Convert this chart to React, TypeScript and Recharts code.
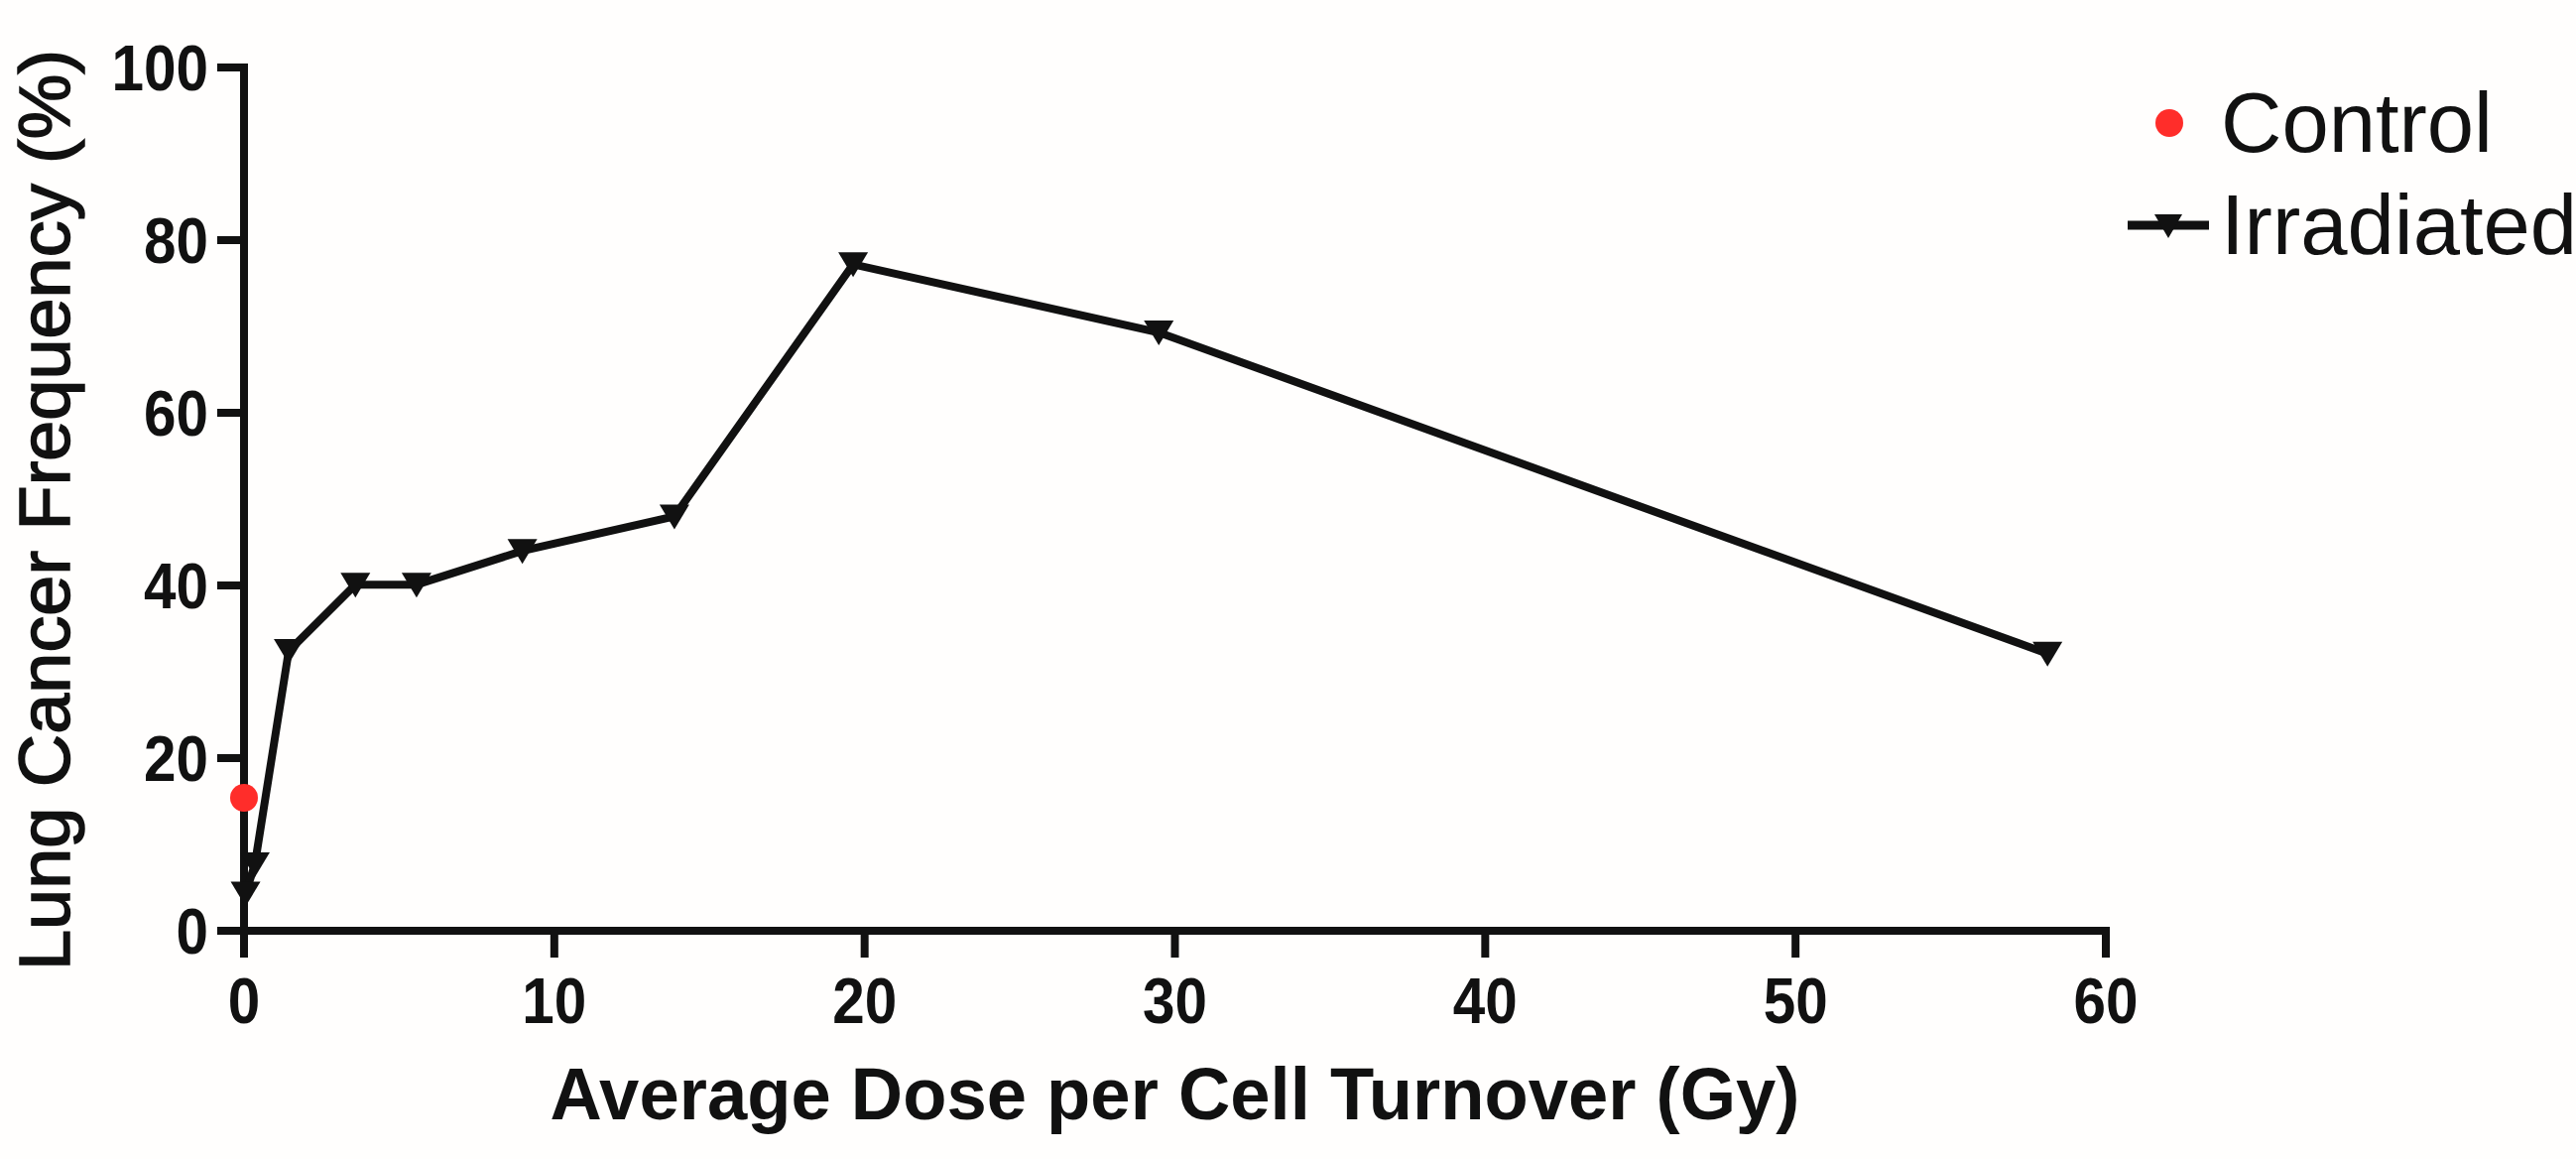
import { ScatterChart, Scatter, XAxis, YAxis, Label } from 'recharts';

// values
const controlDose = [0];
const controlFreq = [15.4];

const irradiatedDose = [0.05, 0.35, 1.44, 3.59, 5.56, 8.97, 13.87, 19.63, 29.48, 58.12];
const irradiatedFreq = [4.3, 7.7, 32.4, 40.1, 40.1, 44.0, 48.0, 77.2, 69.3, 32.1];

const xTicks = [0, 10, 20, 30, 40, 50, 60];
const yTicks = [0, 20, 40, 60, 80, 100];

const controlData = controlDose.map((d, i) => ({ dose: d, freq: controlFreq[i] }));
const irradiatedData = irradiatedDose.map((d, i) => ({ dose: d, freq: irradiatedFreq[i] }));

const INK = '#111111';
const RED = '#ff2d2a';
const FONT = '"Liberation Sans", Arial, Helvetica, sans-serif';

function TriangleDown(props: any) {
  const { cx, cy } = props;
  return <polygon points={`${cx - 15},${cy - 12} ${cx + 15},${cy - 12} ${cx},${cy + 13}`} fill={INK} />;
}

function RedDot(props: any) {
  return <circle cx={props.cx} cy={props.cy} r={14} fill={RED} />;
}

function YTick({ x, y, payload }: any) {
  const s = String(payload.value);
  return (
    <text x={x} y={y} dy="0.355em" textAnchor="end" fontFamily={FONT} fontWeight="bold" fontSize={65} fill={INK}
      textLength={s.length * 32.5} lengthAdjust="spacingAndGlyphs">{s}</text>
  );
}

function XTick({ x, y, payload }: any) {
  const s = String(payload.value);
  return (
    <text x={x} y={y} dy="0.71em" textAnchor="middle" fontFamily={FONT} fontWeight="bold" fontSize={65} fill={INK}
      textLength={s.length * 32.5} lengthAdjust="spacingAndGlyphs">{s}</text>
  );
}

function XTitle({ viewBox }: any) {
  return (
    <text x={viewBox.x + viewBox.width / 2} y={viewBox.y + 190} textAnchor="middle" fontFamily={FONT} fontWeight="bold"
      fontSize={74} fill={INK} textLength={1260} lengthAdjust="spacingAndGlyphs">Average Dose per Cell Turnover (Gy)</text>
  );
}

function YTitle({ viewBox }: any) {
  const cx = 70;
  const cy = viewBox.y + viewBox.height / 2 + 11;
  return (
    <text x={cx} y={cy} transform={`rotate(-90, ${cx}, ${cy})`} textAnchor="middle" fontFamily={FONT}
      fontSize={72} fill={INK} stroke={INK} strokeWidth={1.5} textLength={928} lengthAdjust="spacingAndGlyphs">
      Lung Cancer Frequency (%)
    </text>
  );
}

function LegendBox() {
  const row: any = { position: 'absolute', left: 2125, height: 100, display: 'flex', alignItems: 'center' };
  const label: any = { fontFamily: FONT, fontSize: 85, lineHeight: '100px', color: INK, marginLeft: 12, whiteSpace: 'nowrap' };
  return (
    <>
      <div style={{ ...row, top: 74 }}>
        <svg width={102} height={100}>
          <circle cx={62} cy={50} r={14} fill={RED} />
        </svg>
        <span style={label}>Control</span>
      </div>
      <div style={{ ...row, top: 177 }}>
        <svg width={102} height={100}>
          <line x1={20} y1={50} x2={102} y2={50} stroke={INK} strokeWidth={9} />
          <polygon points="47,39 75,39 61,63" fill={INK} />
        </svg>
        <span style={label}>Irradiated</span>
      </div>
    </>
  );
}

export default function App() {
  return (
    <div style={{ position: 'relative', width: 2597, height: 1168, background: '#fffefd', overflow: 'hidden' }}>
      <style>{`body{margin:0}`}</style>
      <ScatterChart width={2597} height={1168} margin={{ top: 68, right: 474, bottom: 0, left: 0 }}>
        <XAxis type="number" dataKey="dose" domain={[0, 60]} ticks={xTicks} height={230}
          axisLine={{ stroke: INK, strokeWidth: 8, strokeLinecap: 'square' }} tickLine={{ stroke: INK, strokeWidth: 8 }}
          tickSize={27} tickMargin={20} tick={<XTick />}>
          <Label content={<XTitle />} />
        </XAxis>
        <YAxis type="number" dataKey="freq" domain={[0, 100]} ticks={yTicks} width={246}
          axisLine={{ stroke: INK, strokeWidth: 8, strokeLinecap: 'square' }} tickLine={{ stroke: INK, strokeWidth: 8 }}
          tickSize={27} tickMargin={9} tick={<YTick />}>
          <Label content={<YTitle />} />
        </YAxis>
        <Scatter name="Irradiated" data={irradiatedData} line={{ stroke: INK, strokeWidth: 8 }} lineType="joint"
          shape={<TriangleDown />} isAnimationActive={false} />
        <Scatter name="Control" data={controlData} shape={<RedDot />} isAnimationActive={false} />
      </ScatterChart>
      <LegendBox />
    </div>
  );
}
